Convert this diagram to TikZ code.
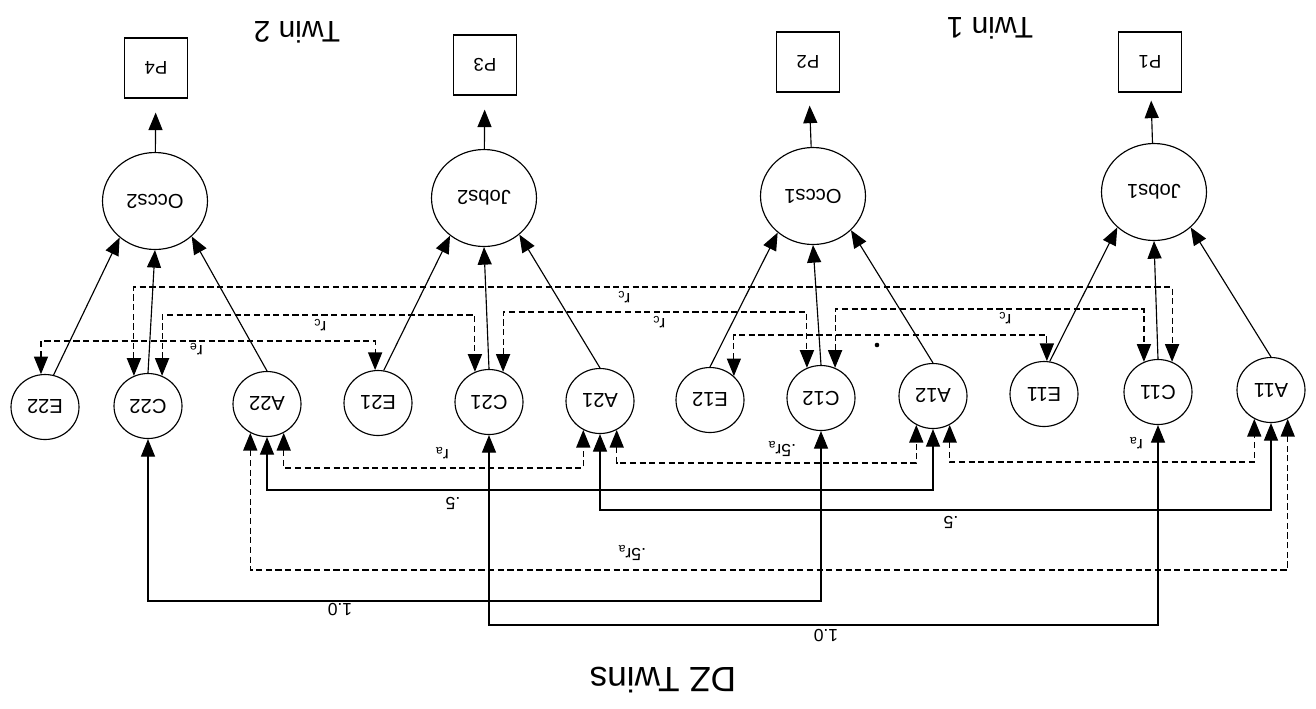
\documentclass[tikz,border=0pt]{standalone}
\usepackage{fontspec}
\setmainfont{Liberation Sans}
\usepackage{graphicx}
\usetikzlibrary{arrows.meta,shapes.geometric}

\newcommand{\upside}[1]{\rotatebox{180}{#1}}

\begin{document}
\begin{tikzpicture}[x=0.02cm, y=-0.02cm, line width=0.65pt,
		>={Triangle[length=10pt,width=8pt]}]
		
		% Styles (the scan is upside down, so every text is turned)
		\tikzstyle{latent} = [ellipse, draw, minimum width=2.1cm, minimum height=1.94cm,
		inner sep=0pt, font=\fontsize{11.5}{13}\selectfont]
		\tikzstyle{comp} = [ellipse, draw, minimum width=1.36cm, minimum height=1.3cm,
		inner sep=0pt, font=\fontsize{11.5}{13}\selectfont]
		\tikzstyle{measure} = [rectangle, draw, minimum width=1.26cm, minimum height=1.2cm,
		font=\fontsize{10.5}{12}\selectfont]
		\tikzstyle{coef} = [inner sep=1pt, font=\fontsize{10}{12}\selectfont]
		\tikzstyle{title} = [inner sep=0pt, font=\fontsize{17}{20}\selectfont]
		\tikzstyle{corr} = [<->, dash pattern=on 3.5pt off 2pt]
		\tikzstyle{fixed} = [<->]
		
		\useasboundingbox[fill=white] (0,0) rectangle (1316,708);
		
		% Measured variables
		\node[measure] (P4) at (156,68) {\upside{P4}};
		\node[measure] (P3) at (485,65) {\upside{P3}};
		\node[measure] (P2) at (808,62) {\upside{P2}};
		\node[measure] (P1) at (1150,62) {\upside{P1}};
		
		% Latent traits
		\node[latent] (Occs2) at (155,201) {\upside{Occs2}};
		\node[latent] (Jobs2) at (484,198) {\upside{Jobs2}};
		\node[latent] (Occs1) at (813,196) {\upside{Occs1}};
		\node[latent] (Jobs1) at (1154,192) {\upside{Jobs1}};
		
		% A, C and E components
		\node[comp] (E22) at (45,407) {\upside{E22}};
		\node[comp] (C22) at (148,406) {\upside{C22}};
		\node[comp] (A22) at (267,404) {\upside{A22}};
		\node[comp] (E21) at (378,403) {\upside{E21}};
		\node[comp] (C21) at (489,402) {\upside{C21}};
		\node[comp] (A21) at (600,401) {\upside{A21}};
		\node[comp] (E12) at (710,400) {\upside{E12}};
		\node[comp] (C12) at (821,398) {\upside{C12}};
		\node[comp] (A12) at (933,396) {\upside{A12}};
		\node[comp] (E11) at (1044,394) {\upside{E11}};
		\node[comp] (C11) at (1158,392) {\upside{C11}};
		\node[comp] (A11) at (1271,390) {\upside{A11}};
		
		% Titles
		\node[title] (twin2) at (297,32) {\upside{Twin 2}};
		\node[title] (twin1) at (990,28) {\upside{Twin 1}};
		\node[title, font=\fontsize{20}{24}\selectfont] (dz) at (663,680) {\upside{DZ Twins}};
		
		% Traits to measures
		\draw[->, shorten >=0.28cm] (Occs2) -- (P4);
		\draw[->, shorten >=0.28cm] (Jobs2) -- (P3);
		\draw[->, shorten >=0.26cm] (Occs1) -- (P2);
		\draw[->, shorten >=0.16cm] (Jobs1) -- (P1);
		
		% Components to traits
		\draw[->] (E22.75) -- (Occs2.226);
		\draw[->] (C22.north) -- (Occs2.south);
		\draw[->] (A22.north) -- (Occs2.316);
		\draw[->] (E21.80) -- (Jobs2.228);
		\draw[->] (C21.north) -- (Jobs2.south);
		\draw[->] (A21.north) -- (Jobs2.314);
		\draw[->] (E12.north) -- (Occs1.226);
		\draw[->] (C12.north) -- (Occs1.south);
		\draw[->] (A12.north) -- (Occs1.318);
		\draw[->] (E11.80) -- (Jobs1.224);
		\draw[->] (C11.north) -- (Jobs1.south);
		\draw[->] (A11.north) -- (Jobs1.316);
		
		% Correlations above the components
		\draw[corr] (C22.115) -- (C22.115 |- 0,287) -| (C11.65);
		\draw[corr] (C22.65) -- (C22.65 |- 0,315) -| (C21.115);
		\draw[corr] (C21.65) -- (C21.65 |- 0,312) -| (C12.115);
		\draw[corr] (C12.65) -- (C12.65 |- 0,309) -| (C11.115);
		\draw[corr] (E22.97) -- (E22.97 |- 0,341) -| (E21.95);
		\draw[corr] (E12.45) -- (E12.45 |- 0,335) -| (E11.85);
		
		% Correlations below the components
		\draw[corr] (A22.300) -- (A22.300 |- 0,468) -| (A21.240);
		\draw[corr] (A21.300) -- (A21.300 |- 0,463) -| (A12.240);
		\draw[corr] (A12.300) -- (A12.300 |- 0,462) -| (A11.240);
		\draw[fixed] (A22.south) -- (A22.south |- 0,490) -| (A12.south);
		\draw[fixed] (A21.south) -- (A21.south |- 0,510) -| (A11.south);
		\draw[corr] (A22.240) -- (A22.240 |- 0,570) -| (A11.300);
		\draw[fixed] (C22.south) -- (C22.south |- 0,601) -| (C12.south);
		\draw[fixed] (C21.south) -- (C21.south |- 0,625) -| (C11.south);
		
		% Path labels
		\node[coef] (re2) at (196,349) {\upside{r\textsubscript{e}}};
		\node[coef] (rc2) at (320,325) {\upside{r\textsubscript{c}}};
		\node[coef] (rcout) at (624,297) {\upside{r\textsubscript{c}}};
		\node[coef] (rcmid) at (659,322) {\upside{r\textsubscript{c}}};
		\node[coef] (rc1) at (1005,318) {\upside{r\textsubscript{c}}};
		\fill (877,345) circle (1.3pt);
		\node[coef] (ra2) at (442,453) {\upside{r\textsubscript{a}}};
		\node[coef] (ra1) at (1136,443) {\upside{r\textsubscript{a}}};
		\node[coef] (hra) at (782,449) {\upside{.5r\textsubscript{a}}};
		\node[coef] (hraout) at (632,553) {\upside{.5r\textsubscript{a}}};
		\node[coef] (half2) at (453,503) {\upside{.5}};
		\node[coef] (half1) at (951,522) {\upside{.5}};
		\node[coef] (one2) at (340,610) {\upside{1.0}};
		\node[coef] (one1) at (826,636) {\upside{1.0}};
		
	\end{tikzpicture}
\end{document}
